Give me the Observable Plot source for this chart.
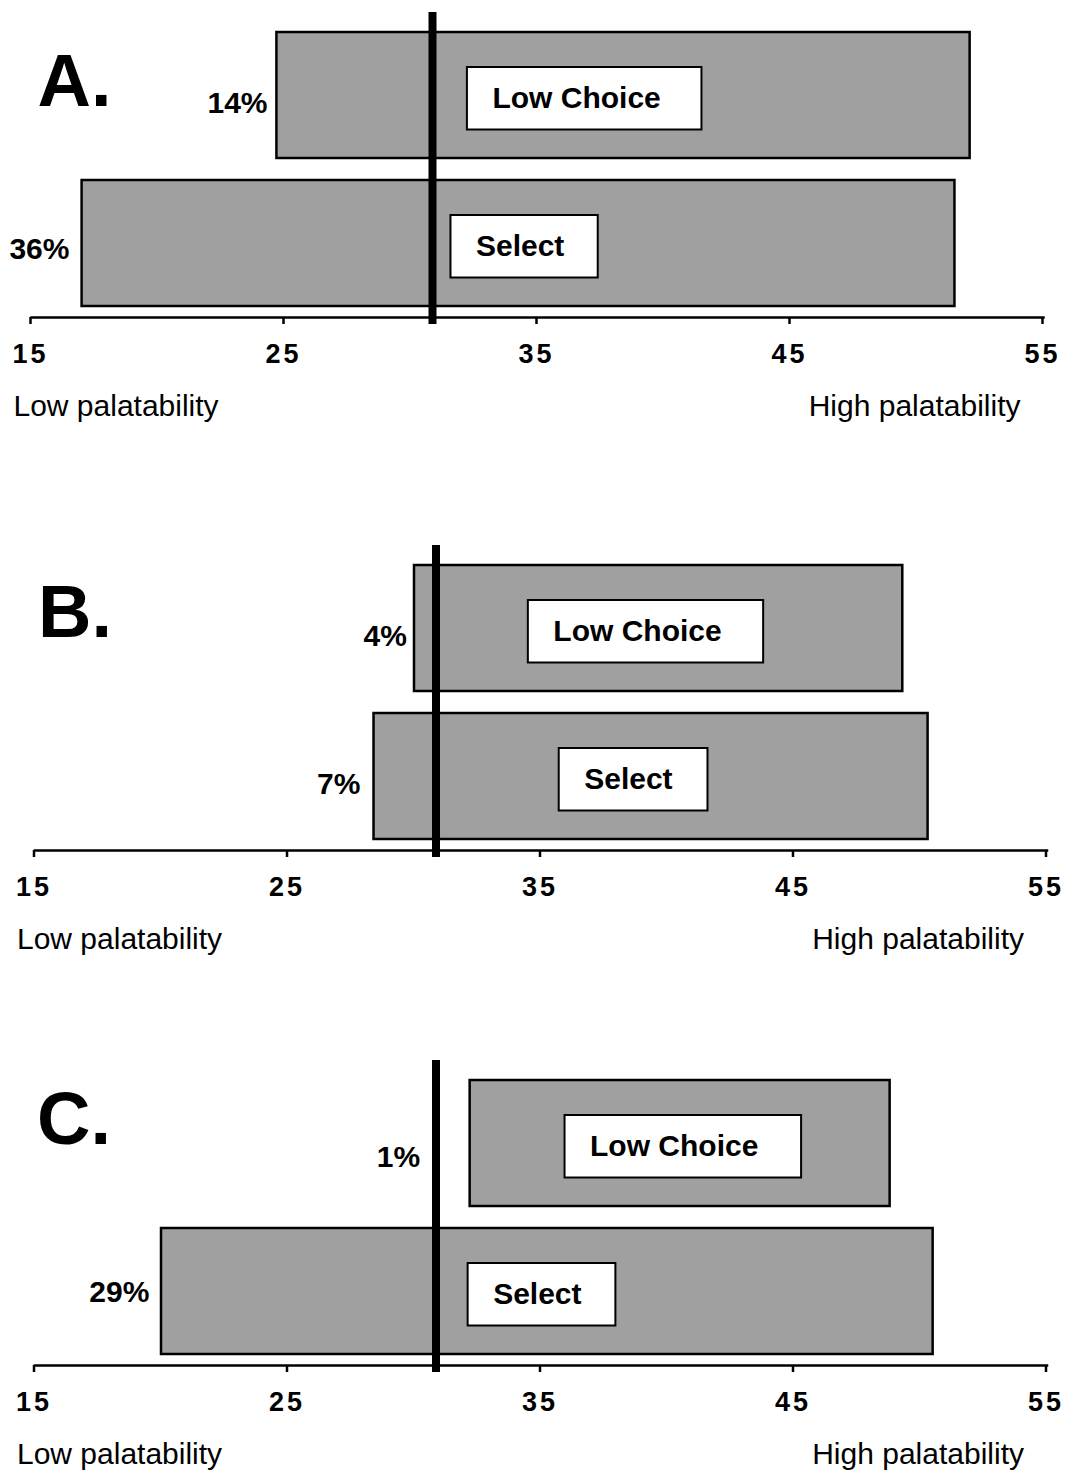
<!DOCTYPE html>
<html><head><meta charset="utf-8">
<script src="https://cdn.jsdelivr.net/npm/d3@7"></script>
<script src="https://cdn.jsdelivr.net/npm/@observablehq/plot@0.6"></script>
<style>
html,body{margin:0;padding:0;background:#fff;}
#chart{position:relative;width:1066px;height:1471px;overflow:hidden;background:#fff;}
#chart svg{position:absolute;left:0;overflow:visible;}
#chart g[aria-label="x-axis tick label"] text{letter-spacing:3px;}
</style></head><body><div id="chart"></div>
<script>
// ---- data ----
const panelLetters = ["A.", "B.", "C."];
const categories = ["Low Choice", "Select"];
const lowChoiceStart = [24.7, 30.0, 32.2];
const lowChoiceEnd = [52.1, 49.3, 48.8];
const selectStart = [17.0, 28.4, 20.0];
const selectEnd = [51.5, 50.3, 50.5];
const lowChoicePct = ["14%", "4%", "1%"];
const selectPct = ["36%", "7%", "29%"];
const cutoff = [30.85, 30.85, 30.85];
const xTicks = [15, 25, 35, 45, 55];
const xLabels = ["Low palatability", "High palatability"];

// ---- annotation placement (x in data units) ----
const lowChoiceBoxStart = [32.23, 34.5, 35.95];
const lowChoiceBoxEnd = [41.5, 43.8, 45.3];
const selectBoxStart = [31.58, 35.72, 32.12];
const selectBoxEnd = [37.4, 41.6, 37.96];
const lowChoicePctX = [24.33, 29.7, 30.22];
const selectPctX = [16.5, 27.86, 19.52];
const lowChoicePctDy = [8, 8, 14];
const selectPctDy = [6, 8, 1];

// ---- layout ----
const W = 1066, H = 425;
const panelTop = [0, 533, 1048];
const panelMarginLeft = [31, 34.5, 34.5];
const panelMarginRight = [23, 19.5, 19.5];
const letterDx = [6, 3, 2];
const letterDy = [93, 91, 83];
const FONT = "'Liberation Sans', Arial, sans-serif";

const chart = document.getElementById("chart");

for (let i = 0; i < 3; i++) {
  const rows = [
    {category: categories[0], start: lowChoiceStart[i], end: lowChoiceEnd[i], pct: lowChoicePct[i],
     pctX: lowChoicePctX[i], pctDy: lowChoicePctDy[i], boxStart: lowChoiceBoxStart[i], boxEnd: lowChoiceBoxEnd[i]},
    {category: categories[1], start: selectStart[i], end: selectEnd[i], pct: selectPct[i],
     pctX: selectPctX[i], pctDy: selectPctDy[i], boxStart: selectBoxStart[i], boxEnd: selectBoxEnd[i]}
  ];
  const axisLabels = [
    {label: xLabels[0], at: xTicks[0], anchor: "start", dx: -18},
    {label: xLabels[1], at: xTicks[xTicks.length - 1], anchor: "end", dx: -23}
  ];
  const svg = Plot.plot({
    width: W, height: H,
    marginTop: 12, marginBottom: 108,
    marginLeft: panelMarginLeft[i], marginRight: panelMarginRight[i],
    x: {domain: [xTicks[0], xTicks[xTicks.length - 1]]},
    y: {domain: categories, axis: null, paddingInner: 0.15, paddingOuter: 0, insetTop: 20, insetBottom: 11},
    style: {fontFamily: FONT, background: "white", color: "black"},
    marks: [
      Plot.barX(rows, {x1: "start", x2: "end", y: "category", fill: "#a0a0a0", stroke: "black", strokeWidth: 2.5}),
      Plot.ruleX([cutoff[i]], {stroke: "black", strokeWidth: 8, insetBottom: -7}),
      Plot.barX(rows, {x1: "boxStart", x2: "boxEnd", y: "category", fill: "white", stroke: "black", strokeWidth: 2, insetTop: 35, insetBottom: 28.5}),
      Plot.text(rows, {x: "boxStart", y: "category", text: "category", textAnchor: "start", dx: 25, dy: 3,
        fontSize: 30, fontWeight: "bold", fill: "black"}),
      ...rows.map(r => Plot.text([r], {x: "pctX", y: "category", text: "pct", textAnchor: "end", dy: r.pctDy,
        fontSize: 30, fontWeight: "bold", fill: "black"})),
      Plot.frame({anchor: "bottom", stroke: "black", strokeWidth: 2.5}),
      Plot.axisX({ticks: xTicks, anchor: "bottom", tickSize: 7, tickPadding: 19, stroke: "black", strokeWidth: 2.5,
        fontSize: 27, fontWeight: "bold", fill: "black", label: null, dx: -1}),
      ...axisLabels.map(a => Plot.text([a], {x: "at", frameAnchor: "bottom", text: "label", textAnchor: a.anchor,
        dx: a.dx, dy: 98, lineAnchor: "bottom", fontSize: 30, fill: "black"})),
      Plot.text([panelLetters[i]], {frameAnchor: "top-left", text: d => d, textAnchor: "start", lineAnchor: "bottom",
        dx: letterDx[i], dy: letterDy[i], fontSize: 74, fontWeight: "bold", fill: "black"})
    ]
  });
  svg.style.top = panelTop[i] + "px";
  chart.appendChild(svg);
}
</script>
</body></html>
